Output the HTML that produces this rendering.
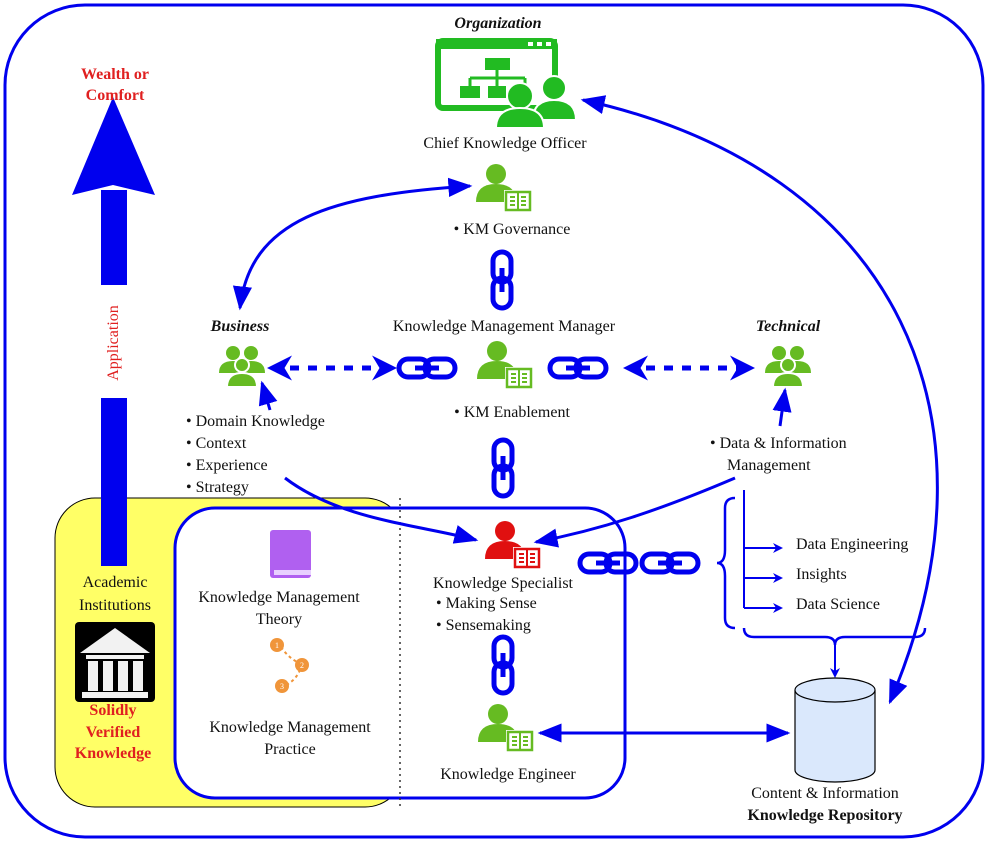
<!DOCTYPE html>
<html><head><meta charset="utf-8"><style>
html,body{margin:0;padding:0;background:#fff}
svg{display:block}
svg text{font-family:"Liberation Serif","DejaVu Serif",serif;font-size:16px;fill:#111}
</style></head><body>
<svg width="989" height="843" viewBox="0 0 989 843" xmlns="http://www.w3.org/2000/svg" font-family="Liberation Serif, DejaVu Serif, serif">
<defs>
<marker id="ah" viewBox="0 0 10 10" refX="8" refY="5" markerWidth="5" markerHeight="5" orient="auto-start-reverse"><path d="M0,0 L10,5 L0,10 L3,5 z" fill="#0000ee"/></marker>
<marker id="ah2" viewBox="0 0 10 10" refX="9" refY="5" markerWidth="8" markerHeight="8" orient="auto-start-reverse"><path d="M0,1 L10,5 L0,9 z" fill="#0000ee"/></marker>
<g id="pb">
<circle cx="0" cy="-14" r="10" fill="#66bb22"/>
<path d="M-20,14 Q-20,-4 0,-4 Q20,-4 20,14 z" fill="#66bb22"/>
<rect x="8" y="2" width="28" height="22" fill="#fff"/>
<rect x="10" y="4" width="24" height="18" fill="none" stroke="#66bb22" stroke-width="2.5"/>
<line x1="22" y1="4" x2="22" y2="22" stroke="#66bb22" stroke-width="2"/>
<path d="M14,9h5M14,13h5M14,17h5M25,9h5M25,13h5M25,17h5" stroke="#66bb22" stroke-width="2"/>
</g>
<g id="grp">
<circle cx="-8" cy="-14" r="7" fill="#66bb22"/><circle cx="10" cy="-14" r="7" fill="#66bb22"/>
<path d="M-22,6 Q-22,-6 -8,-6 Q6,-6 6,6z M-4,6 Q-4,-6 10,-6 Q24,-6 24,6z" fill="#66bb22"/>
<circle cx="1" cy="-2" r="7" fill="#66bb22" stroke="#fff" stroke-width="2"/>
<path d="M-14,20 Q-14,6 1,6 Q16,6 16,20z" fill="#66bb22" stroke="#fff" stroke-width="2"/>
</g>
<g id="chH" fill="none" stroke="#0000ee" stroke-width="5">
<rect x="-28" y="-9" width="30" height="18" rx="9"/>
<rect x="-2" y="-9" width="30" height="18" rx="9"/>
<line x1="-12" y1="0" x2="12" y2="0" stroke-width="5"/>
</g>
<g id="chV" fill="none" stroke="#0000ee" stroke-width="5">
<rect x="-9" y="-28" width="18" height="30" rx="9"/>
<rect x="-9" y="-2" width="18" height="30" rx="9"/>
<line x1="0" y1="-12" x2="0" y2="12"/>
</g>
</defs>

<rect x="5" y="5" width="978" height="832" rx="80" fill="#fff" stroke="#0000ee" stroke-width="3"/>

<rect x="55" y="498" width="350" height="309" rx="40" fill="#ffff66" stroke="#000" stroke-width="1"/>
<rect x="175" y="508" width="450" height="290" rx="40" fill="#fff" stroke="#0000ee" stroke-width="3"/>
<line x1="400" y1="498" x2="400" y2="806" stroke="#333" stroke-width="1.5" stroke-dasharray="2,4"/>

<rect x="101" y="190" width="26" height="95" fill="#0000ee"/>
<rect x="101" y="398" width="26" height="168" fill="#0000ee"/>
<path d="M72,195 L113,97 L155,195 L113,185z" fill="#0000ee"/>
<text transform="translate(118,343) rotate(-90)" text-anchor="middle" style="fill:#e02020">Application</text>
<text x="115" y="79" text-anchor="middle" style="fill:#e02020;font-weight:bold">Wealth or</text>
<text x="115" y="100" text-anchor="middle" style="fill:#e02020;font-weight:bold">Comfort</text>

<text x="115" y="587" text-anchor="middle">Academic</text>
<text x="115" y="610" text-anchor="middle">Institutions</text>
<g>
<rect x="75" y="622" width="80" height="80" rx="4" fill="#000"/>
<path d="M80,653 L115,628 L150,653z" fill="#f2f2f2"/>
<rect x="86" y="655" width="58" height="4" fill="#f2f2f2"/>
<rect x="88" y="661" width="10" height="30" fill="#f2f2f2"/><rect x="103" y="661" width="10" height="30" fill="#f2f2f2"/><rect x="118" y="661" width="10" height="30" fill="#f2f2f2"/><rect x="133" y="661" width="10" height="30" fill="#f2f2f2"/>
<rect x="82" y="692" width="66" height="6" fill="#f2f2f2"/>
</g>
<text x="113" y="715" text-anchor="middle" style="fill:#e02020;font-weight:bold">Solidly</text>
<text x="113" y="737" text-anchor="middle" style="fill:#e02020;font-weight:bold">Verified</text>
<text x="113" y="758" text-anchor="middle" style="fill:#e02020;font-weight:bold">Knowledge</text>

<rect x="270" y="530" width="41" height="48" rx="3" fill="#b060f0"/>
<rect x="274" y="570" width="37" height="5" fill="#e8d0ff"/>
<text x="279" y="602" text-anchor="middle">Knowledge Management</text>
<text x="279" y="624" text-anchor="middle">Theory</text>
<path d="M281,647 Q290,660 302,664 M302,664 Q298,680 284,686" fill="none" stroke="#f0953a" stroke-width="2" stroke-dasharray="3,3"/>
<circle cx="277" cy="645" r="7" fill="#f0953a"/><circle cx="302" cy="665" r="7" fill="#f0953a"/><circle cx="282" cy="686" r="7" fill="#f0953a"/>
<text x="277" y="648" text-anchor="middle" style="font-size:8px;fill:#fff">1</text>
<text x="302" y="668" text-anchor="middle" style="font-size:8px;fill:#fff">2</text>
<text x="282" y="689" text-anchor="middle" style="font-size:8px;fill:#fff">3</text>
<text x="290" y="732" text-anchor="middle">Knowledge Management</text>
<text x="290" y="754" text-anchor="middle">Practice</text>

<text x="498" y="28" text-anchor="middle" style="font-weight:bold;font-style:italic">Organization</text>
<rect x="438" y="41" width="117" height="67" rx="5" fill="none" stroke="#22bb22" stroke-width="6"/>
<rect x="436" y="39" width="121" height="10" fill="#22bb22"/>
<rect x="528" y="42" width="5" height="4" fill="#fff"/><rect x="537" y="42" width="5" height="4" fill="#fff"/><rect x="546" y="42" width="5" height="4" fill="#fff"/>
<rect x="485" y="58" width="25" height="12" fill="#22bb22"/>
<path d="M497,70 V78 M470,78 H525 M470,78 V86 M497,78 V86 M525,78 V86" stroke="#22bb22" stroke-width="3" fill="none"/>
<rect x="460" y="86" width="20" height="12" fill="#22bb22"/><rect x="488" y="86" width="18" height="12" fill="#22bb22"/>
<circle cx="554" cy="88" r="12" fill="#22bb22" stroke="#fff" stroke-width="2"/>
<path d="M533,120 Q533,100 554,100 Q576,100 576,120z" fill="#22bb22" stroke="#fff" stroke-width="2"/>
<circle cx="520" cy="96" r="13" fill="#22bb22" stroke="#fff" stroke-width="2"/>
<path d="M496,128 Q496,108 520,108 Q544,108 544,128z" fill="#22bb22" stroke="#fff" stroke-width="2"/>
<text x="505" y="148" text-anchor="middle">Chief Knowledge Officer</text>

<use href="#pb" x="496" y="188"/>
<text x="512" y="234" text-anchor="middle">• KM Governance</text>
<use href="#chV" x="502" y="280"/>
<text x="504" y="331" text-anchor="middle">Knowledge Management Manager</text>
<use href="#pb" x="497" y="365"/>
<text x="512" y="417" text-anchor="middle">• KM Enablement</text>
<use href="#chH" x="427" y="368"/>
<use href="#chH" x="578" y="368"/>
<use href="#chV" x="503" y="468"/>

<text x="240" y="331" text-anchor="middle" style="font-weight:bold;font-style:italic">Business</text>
<use href="#grp" x="241" y="367"/>
<text x="186" y="426">• Domain Knowledge</text>
<text x="186" y="448">• Context</text>
<text x="186" y="470">• Experience</text>
<text x="186" y="492">• Strategy</text>

<text x="788" y="331" text-anchor="middle" style="font-weight:bold;font-style:italic">Technical</text>
<use href="#grp" x="787" y="367"/>
<text x="710" y="448">• Data &amp; Information</text>
<text x="727" y="470">Management</text>

<line x1="272" y1="368" x2="392" y2="368" stroke="#0000ee" stroke-width="5" stroke-dasharray="9,9" marker-start="url(#ah)" marker-end="url(#ah)"/>
<line x1="628" y1="368" x2="750" y2="368" stroke="#0000ee" stroke-width="5" stroke-dasharray="9,9" marker-start="url(#ah)" marker-end="url(#ah)"/>

<path d="M470,186 C330,195 250,220 240,308" fill="none" stroke="#0000ee" stroke-width="3" marker-start="url(#ah2)" marker-end="url(#ah2)"/>
<path d="M583,100 C900,170 1010,420 890,702" fill="none" stroke="#0000ee" stroke-width="3" marker-start="url(#ah2)" marker-end="url(#ah2)"/>
<path d="M270,410 L262,383" fill="none" stroke="#0000ee" stroke-width="3" marker-end="url(#ah2)"/>
<path d="M780,426 L785,390" fill="none" stroke="#0000ee" stroke-width="3" marker-end="url(#ah2)"/>
<path d="M285,478 C340,520 420,525 476,540" fill="none" stroke="#0000ee" stroke-width="3" marker-end="url(#ah2)"/>
<path d="M735,478 C660,510 600,530 536,542" fill="none" stroke="#0000ee" stroke-width="3" marker-end="url(#ah2)"/>

<g transform="translate(505,545)">
<circle cx="0" cy="-14" r="10" fill="#e01010"/>
<path d="M-20,14 Q-20,-4 0,-4 Q20,-4 20,14 z" fill="#e01010"/>
<rect x="8" y="2" width="28" height="22" fill="#fff"/>
<rect x="10" y="4" width="24" height="18" fill="none" stroke="#e01010" stroke-width="2.5"/>
<line x1="22" y1="4" x2="22" y2="22" stroke="#e01010" stroke-width="2"/>
<path d="M14,9h5M14,13h5M14,17h5M25,9h5M25,13h5M25,17h5" stroke="#e01010" stroke-width="2"/>
</g>
<text x="503" y="588" text-anchor="middle">Knowledge Specialist</text>
<text x="436" y="608">• Making Sense</text>
<text x="436" y="630">• Sensemaking</text>
<use href="#chV" x="503" y="665"/>
<use href="#pb" x="498" y="728"/>
<text x="508" y="779" text-anchor="middle">Knowledge Engineer</text>
<use href="#chH" x="608" y="563"/>
<use href="#chH" x="670" y="563"/>

<line x1="540" y1="733" x2="788" y2="733" stroke="#0000ee" stroke-width="3" marker-start="url(#ah2)" marker-end="url(#ah2)"/>

<path d="M735,498 Q725,498 725,508 V550 Q725,563 717,563 Q725,563 725,576 V618 Q725,628 735,628" fill="none" stroke="#0000ee" stroke-width="2.5"/>
<path d="M744,490 V608" stroke="#0000ee" stroke-width="2" fill="none"/>
<line x1="744" y1="548" x2="781" y2="548" stroke="#0000ee" stroke-width="2" marker-end="url(#ah)"/>
<line x1="744" y1="578" x2="781" y2="578" stroke="#0000ee" stroke-width="2" marker-end="url(#ah)"/>
<line x1="744" y1="608" x2="781" y2="608" stroke="#0000ee" stroke-width="2" marker-end="url(#ah)"/>
<text x="796" y="549">Data Engineering</text>
<text x="796" y="579">Insights</text>
<text x="796" y="609">Data Science</text>
<path d="M744,628 Q744,637 754,637 H825 Q835,637 835,645 Q835,637 845,637 H915 Q925,637 925,628" fill="none" stroke="#0000ee" stroke-width="2.5"/>
<line x1="835" y1="645" x2="835" y2="676" stroke="#0000ee" stroke-width="2" marker-end="url(#ah)"/>

<path d="M795,690 V770 A40,12 0 0 0 875,770 V690" fill="#dae8fc" stroke="#000" stroke-width="1.2"/>
<ellipse cx="835" cy="690" rx="40" ry="12" fill="#dae8fc" stroke="#000" stroke-width="1.2"/>
<text x="825" y="798" text-anchor="middle">Content &amp; Information</text>
<text x="825" y="820" text-anchor="middle" style="font-weight:bold">Knowledge Repository</text>
</svg>
</body></html>
